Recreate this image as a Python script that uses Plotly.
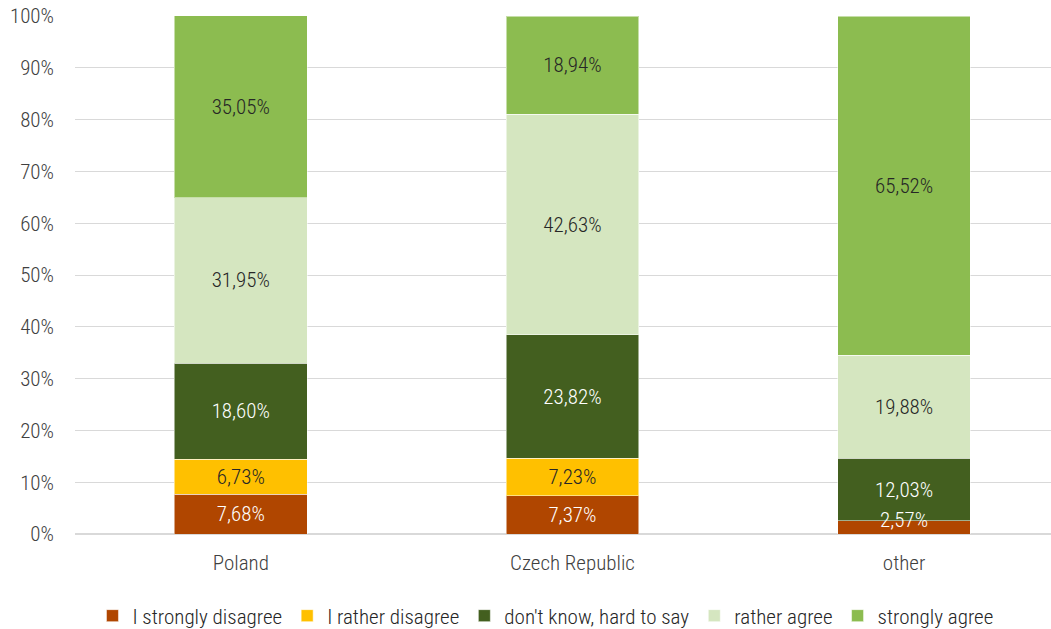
import plotly.graph_objects as go

categories = ['Poland', 'Czech Republic', 'other']
series_names = ['I strongly disagree', 'I rather disagree', "don't know, hard to say",
                'rather agree', 'strongly agree']
strongly_disagree = [7.68, 7.37, 2.57]
rather_disagree = [6.73, 7.23, 0.0]
dont_know = [18.60, 23.82, 12.03]
rather_agree = [31.95, 42.63, 19.88]
strongly_agree = [35.05, 18.94, 65.52]

colors = ['#B04600', '#FFC000', '#435F1F', '#D5E6C0', '#8CBC50']
text_colors = ['white', '#262626', 'white', '#262626', '#262626']

FONT = 'Roboto Condensed, Roboto, sans-serif'


def fmt(v):
    '''Polish style label, comma decimal, empty for zero'''
    return f'{v:.2f}%'.replace('.', ',') if v > 0 else ''


fig = go.Figure()
all_values = [strongly_disagree, rather_disagree, dont_know, rather_agree, strongly_agree]
base = [0.0] * len(categories)
for name, vals, col, tcol in zip(series_names, all_values, colors, text_colors):
    # thin segments get their label as an annotation, nudged up like the original
    positions = ['inside' if v >= 4 else 'none' for v in vals]
    fig.add_trace(go.Bar(
        x=categories, y=vals, name=name,
        marker=dict(color=col, line=dict(color='rgba(255,255,255,0.5)', width=1)),
        text=[fmt(v) for v in vals], textposition=positions, insidetextanchor='middle',
        textangle=0, constraintext='none',
        textfont=dict(family=FONT, size=21, color=tcol, weight=300),
        width=0.4, hoverinfo='skip'))
    for i, v in enumerate(vals):
        if 0 < v < 4:
            fig.add_annotation(x=categories[i], y=base[i] + v / 2, text=fmt(v),
                               showarrow=False, yshift=7,
                               font=dict(family=FONT, size=21, color=tcol, weight=300))
    base = [b + v for b, v in zip(base, vals)]

fig.update_layout(
    barmode='stack', width=1051, height=629,
    plot_bgcolor='white', paper_bgcolor='white',
    margin=dict(l=75, r=0, t=16, b=95),
    font=dict(family=FONT, size=21, color='#404040', weight=300),
    uniformtext=dict(mode='show', minsize=21),
    legend=dict(orientation='h', xref='container', x=0.519, xanchor='center',
                yref='container', y=0.0207, yanchor='middle',
                font=dict(size=21, color='#262626'), traceorder='normal', itemwidth=30),
    showlegend=True, hovermode=False,
)
fig.update_xaxes(range=[-0.5, 2.443], showgrid=False, ticks='', showline=False,
                 tickfont=dict(size=21), automargin=False, ticklabelstandoff=14)
fig.update_yaxes(range=[0, 100], dtick=10, ticksuffix='%', gridcolor='#D9D9D9',
                 gridwidth=1, zeroline=True, zerolinecolor='#D9D9D9', zerolinewidth=2,
                 ticklabelstandoff=20, tickfont=dict(size=21), automargin=False)

# drop the default 8px body margin so the figure sits at the page corner
fig.write_html('out.html', config={'displayModeBar': False},
               post_script="document.body.style.margin='0';")
